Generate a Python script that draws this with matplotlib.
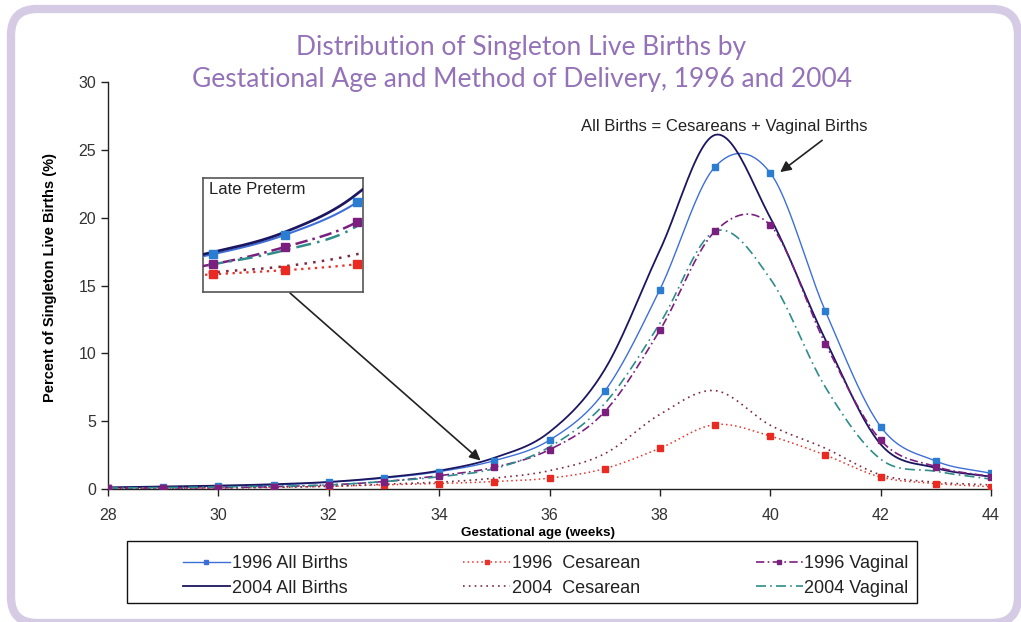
import numpy as np
import matplotlib.pyplot as plt
from matplotlib.patches import FancyBboxPatch, Rectangle
from matplotlib.transforms import IdentityTransform

# Gestational age (weeks)
weeks = np.arange(28, 45)

# Percent of singleton live births
all_1996 = [0.10, 0.13, 0.20, 0.30, 0.50, 0.80, 1.28, 2.09, 3.60, 7.20, 14.70, 23.75, 23.30, 13.10, 4.60, 2.06, 1.15]
ces_1996 = [0.05, 0.06, 0.10, 0.13, 0.20, 0.30, 0.40, 0.55, 0.80, 1.50, 3.00, 4.75, 3.90, 2.50, 0.88, 0.40, 0.17]
vag_1996 = [0.05, 0.07, 0.10, 0.17, 0.30, 0.55, 0.98, 1.60, 2.90, 5.70, 11.70, 19.00, 19.45, 10.70, 3.60, 1.65, 0.92]
all_2004 = [0.12, 0.18, 0.25, 0.35, 0.52, 0.85, 1.35, 2.30, 4.20, 8.80, 17.60, 26.10, 20.00, 11.00, 3.30, 1.55, 0.90]
ces_2004 = [0.05, 0.06, 0.08, 0.12, 0.20, 0.35, 0.50, 0.80, 1.35, 2.60, 5.50, 7.25, 4.70, 3.00, 1.05, 0.50, 0.30]
vag_2004 = [0.07, 0.10, 0.15, 0.20, 0.30, 0.55, 0.90, 1.50, 3.10, 6.30, 12.20, 19.00, 15.50, 7.50, 2.20, 1.30, 0.73]

labels = ['1996 All Births', '2004 All Births', '1996  Cesarean',
          '2004  Cesarean', '1996 Vaginal', '2004 Vaginal']

TITLE_COLOR = '#9472b8'
BORDER_COLOR = '#d5cbe5'
W, H = 1021, 622


# Excel-like smoothed line (Catmull-Rom through the points)
def smooth(x, y, n=24):
    x = np.asarray(x, float)
    y = np.asarray(y, float)
    xs, ys = [], []
    for i in range(len(x) - 1):
        y0 = y[i - 1] if i > 0 else y[i]
        y3 = y[i + 2] if i + 2 < len(y) else y[i + 1]
        m1 = (y[i + 1] - y0) / 2
        m2 = (y3 - y[i]) / 2
        if i == 0:
            m1 = y[1] - y[0]
        if i + 2 >= len(y):
            m2 = y[i + 1] - y[i]
        t = np.linspace(0, 1, n, endpoint=False)
        h00 = 2 * t**3 - 3 * t**2 + 1
        h10 = t**3 - 2 * t**2 + t
        h01 = -2 * t**3 + 3 * t**2
        h11 = t**3 - t**2
        xs.append(x[i] + t * (x[i + 1] - x[i]))
        ys.append(h00 * y[i] + h10 * m1 + h01 * y[i + 1] + h11 * m2)
    xs.append([x[-1]])
    ys.append([y[-1]])
    return np.concatenate(xs), np.concatenate(ys)


def draw_series(ax, scale=1.0):
    styles = [
        (all_1996, dict(color='#3d6fd8', lw=1.0, ls='-'), '#2b7dd2'),
        (all_2004, dict(color='#1b165f', lw=1.3, ls='-'), None),
        (ces_1996, dict(color='#e8332b', lw=1.1, ls=(0, (1, 2))), '#e82a22'),
        (ces_2004, dict(color='#7a2a3c', lw=1.2, ls=(0, (1, 2.5))), None),
        (vag_1996, dict(color='#7b1f7f', lw=1.2, ls=(0, (5, 2, 1, 2))), '#7b1f7f'),
        (vag_2004, dict(color='#2f8c8a', lw=1.2, ls=(0, (6, 2.5, 1, 2.5))), None),
    ]
    handles = []
    for (vals, lst, mcol), lab in zip(styles, labels):
        sx, sy = smooth(weeks, vals)
        lw = lst['lw'] * scale
        ax.plot(sx, sy, color=lst['color'], lw=lw, ls=lst['ls'], zorder=3)
        if mcol is not None:
            ax.plot(weeks, vals, ls='none', marker='s', ms=4 * scale,
                    color=mcol, zorder=4)
        h, = ax.plot([], [], color=lst['color'], lw=lst['lw'], ls=lst['ls'],
                     marker='s' if mcol is not None else None, ms=3.5,
                     markevery=[1])
        handles.append(h)
    return handles


plt.rcParams['font.family'] = ['Liberation Sans', 'DejaVu Sans']
narrow = ['Liberation Sans Narrow', 'Liberation Sans', 'DejaVu Sans']

fig = plt.figure(figsize=(W / 100, H / 100), dpi=100)

# rounded lavender frame around the whole chart
frame = FancyBboxPatch((11, -1), 1007, 614, boxstyle='round,pad=0,rounding_size=26',
                       transform=IdentityTransform(), facecolor='none',
                       edgecolor=BORDER_COLOR, lw=6, zorder=0)
fig.patches.append(frame)

ax = fig.add_axes([108 / W, 133 / H, 883 / W, 407 / H])
handles = draw_series(ax)

ax.set_xlim(28, 44)
ax.set_ylim(0, 30)
ax.set_xticks(range(28, 45, 2))
ax.set_yticks(range(0, 31, 5))
ax.spines['top'].set_visible(False)
ax.spines['right'].set_visible(False)
for s in ('left', 'bottom'):
    ax.spines[s].set_color('#222222')
    ax.spines[s].set_linewidth(1.0)
ax.tick_params(direction='out', length=5, width=1, colors='#222222',
               labelcolor='#333333', labelsize=11.5)
ax.tick_params(axis='x', pad=9)
for t in ax.get_xticklabels() + ax.get_yticklabels():
    t.set_family(narrow)

fig.text(50 / W, 1 - 277 / H, 'Percent of Singleton Live Births (%)', fontsize=10.5,
         fontweight='bold', rotation=90, ha='center', va='center')
fig.text(538 / W, 1 - 533 / H, 'Gestational age (weeks)', fontsize=9.7,
         fontweight='bold', ha='center', va='center')

fig.text(521 / W, 1 - 47 / H, 'Distribution of Singleton Live Births by',
         fontsize=19, color=TITLE_COLOR, ha='center', va='center', family=['Lato', 'DejaVu Sans'])
fig.text(522 / W, 1 - 80 / H, 'Gestational Age and Method of Delivery, 1996 and 2004',
         fontsize=19, color=TITLE_COLOR, ha='center', va='center', family=['Lato', 'DejaVu Sans'])

# annotation with arrow to the 1996 all births curve
ax.text(39.16, 26.75, 'All Births = Cesareans + Vaginal Births', fontsize=12,
        ha='center', va='center', color='#222222')
ax.annotate('', xy=(40.18, 23.36), xytext=(40.94, 25.7),
            arrowprops=dict(arrowstyle='-|>', color='#222222', lw=1.2,
                            shrinkA=0, shrinkB=0, mutation_scale=16))

# late preterm inset
inset = fig.add_axes([203 / W, 330 / H, 160 / W, 114 / H])
draw_series(inset, scale=1.5)
inset.set_xlim(32.86, 35.08)
inset.set_ylim(-0.14, 2.69)
inset.set_xticks([])
inset.set_yticks([])
for s in inset.spines.values():
    s.set_color('#555555')
    s.set_linewidth(1.2)
inset.text(0.04, 0.9, 'Late Preterm', transform=inset.transAxes, fontsize=12,
           ha='left', va='center', color='#222222')

ax.annotate('', xy=(34.75, 2.1), xycoords='data',
            xytext=(290 / W, 1 - 293 / H), textcoords='figure fraction',
            arrowprops=dict(arrowstyle='-|>', color='#222222', lw=1.2,
                            shrinkA=0, shrinkB=0, mutation_scale=16))

# legend: box drawn separately, entries placed inside
legbox = Rectangle((127, H - 603), 790, 62, transform=IdentityTransform(),
                   facecolor='white', edgecolor='#111111', lw=1.0, zorder=1)
fig.patches.append(legbox)
leg = fig.legend(handles, labels, ncol=3, loc='upper left',
                 bbox_to_anchor=(183 / W, 1 - 555 / H), frameon=False,
                 fontsize=13, handlelength=2.6, handletextpad=0.1, borderpad=0,
                 borderaxespad=0, labelspacing=0.42, columnspacing=6.4)
for t in leg.get_texts():
    t.set_family(narrow)
    t.set_color('#222222')

fig.savefig('out.png', dpi=100)
